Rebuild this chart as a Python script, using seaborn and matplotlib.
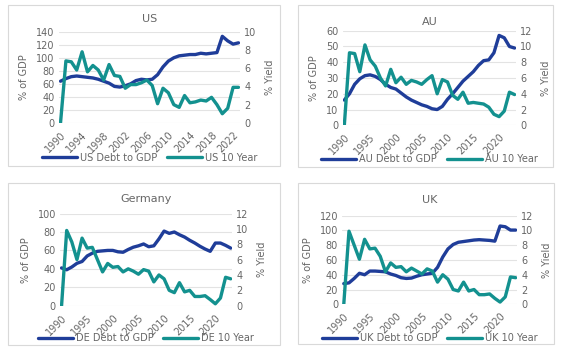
import numpy as np
import pandas as pd
import matplotlib
matplotlib.use('Agg')
import matplotlib.pyplot as plt
import seaborn as sns
from matplotlib.patches import Rectangle

years = list(range(1990, 2024))

us_debt = [64, 68, 71, 72, 71, 70, 69, 67, 64, 61, 56, 55, 57, 60, 65, 67, 66, 67, 74, 86,
           95, 100, 103, 104, 105, 105, 107, 106, 107, 108, 133, 126, 121, 123]
us_yield = [0, 6.8, 6.7, 5.8, 7.8, 5.6, 6.3, 5.8, 4.7, 6.4, 5.2, 5.1, 3.8, 4.2, 4.2, 4.4, 4.7,
            4.1, 2.1, 3.8, 3.3, 2.0, 1.7, 3.0, 2.2, 2.3, 2.5, 2.4, 2.8, 2.0, 1.0, 1.6, 3.9, 3.9]

au_debt = [16, 20, 26, 29.5, 31.5, 32, 31, 29, 26, 24, 23, 20.5, 18, 16, 14.5, 13, 12, 10.5,
           10, 12, 16.5, 20, 24, 28, 31, 34, 38, 41, 41.5, 46, 57, 55.5, 50, 49]
au_yield = [0, 9.2, 9.1, 6.8, 10.2, 8.3, 7.5, 6.0, 5.0, 7.1, 5.4, 6.1, 5.2, 5.7, 5.5, 5.2, 5.8,
            6.3, 4.0, 5.8, 5.5, 3.8, 3.3, 4.2, 2.8, 2.9, 2.8, 2.7, 2.3, 1.4, 1.1, 1.8, 4.2, 3.9]

de_debt = [41, 39, 42, 46, 48, 54, 57, 59, 59.5, 60, 60, 58.5, 58, 61, 63.5, 65, 67, 64, 65,
           72.5, 81, 78.5, 80, 77, 74.5, 71, 68, 64.5, 61.5, 59, 68, 68, 65.5, 62.5]
de_yield = [0, 9.8, 8.3, 6.0, 8.8, 7.5, 7.6, 6.0, 4.4, 5.5, 5.0, 5.1, 4.4, 4.8, 4.5, 4.1, 4.7,
            4.5, 3.1, 4.0, 3.5, 2.0, 1.7, 3.0, 1.8, 2.0, 1.2, 1.2, 1.3, 0.8, 0.25, 1.0, 3.7, 3.5]

uk_debt = [28, 29, 35, 42, 40, 45, 45, 44.5, 44, 41, 39, 36, 35, 35.5, 38, 40, 41, 42, 50, 64,
           75, 81, 84, 85, 86, 87, 87.5, 87, 86.5, 85.5, 106, 105, 100.5, 100.5]
uk_yield = [0, 9.9, 8.0, 6.1, 8.8, 7.5, 7.6, 6.5, 4.4, 5.6, 5.0, 5.1, 4.4, 4.9, 4.5, 4.1, 4.8,
            4.5, 3.0, 4.0, 3.4, 2.0, 1.8, 3.0, 1.8, 2.0, 1.3, 1.3, 1.4, 0.8, 0.3, 1.0, 3.7, 3.6]

DEBT_C = '#1f3d99'
YIELD_C = '#13918f'
TXT = '#666666'
GRID = '#e3e3e3'

sns.set_style('white')
plt.rcParams['font.family'] = ['DejaVu Sans']

fig = plt.figure(figsize=(5.61, 3.53), dpi=100)

# panel boxes (pixel coords: x0, y0_top, x1, y1_bottom)
boxes = [(8, 5, 280, 166), (298, 5, 553, 167), (8, 183, 280, 345), (298, 183, 554, 344)]
for x0, y0, x1, y1 in boxes:
    fig.patches.append(Rectangle((x0 / 561, 1 - y1 / 353), (x1 - x0) / 561, (y1 - y0) / 353,
                                 transform=fig.transFigure, fill=False,
                                 edgecolor='#d9d9d9', lw=0.8))

panels = [
    dict(name='US', title='US', debt=us_debt, yld=us_yield, rect=[0.105, 0.652, 0.323, 0.258],
         lmax=140, lstep=20, rmax=10, xstep=4, title_y=0.946, leg_y=0.553),
    dict(name='AU', title='AU', debt=au_debt, yld=au_yield, rect=[0.611, 0.645, 0.309, 0.268],
         lmax=60, lstep=10, rmax=12, xstep=5, title_y=0.938, leg_y=0.549),
    dict(name='DE', title='Germany', debt=de_debt, yld=de_yield, rect=[0.107, 0.134, 0.307, 0.261],
         lmax=100, lstep=20, rmax=12, xstep=5, title_y=0.436, leg_y=0.042),
    dict(name='UK', title='UK', debt=uk_debt, yld=uk_yield, rect=[0.610, 0.138, 0.312, 0.251],
         lmax=120, lstep=20, rmax=12, xstep=5, title_y=0.433, leg_y=0.042),
]

for p in panels:
    df = pd.DataFrame({'Year': years, 'Debt': p['debt'], 'Yield': p['yld']})
    ax = fig.add_axes(p['rect'])
    ax2 = ax.twinx()
    sns.lineplot(data=df, x='Year', y='Debt', ax=ax, color=DEBT_C, lw=2.4,
                 label=f"{p['name']} Debt to GDP", legend=False)
    sns.lineplot(data=df, x='Year', y='Yield', ax=ax2, color=YIELD_C, lw=2.4,
                 label=f"{p['name']} 10 Year", legend=False)
    ax.set_xlim(1989.7, 2023.3)
    ax.set_ylim(0, p['lmax'])
    ax2.set_ylim(0, p['rmax'])
    ax.set_yticks(np.arange(0, p['lmax'] + 1, p['lstep']))
    ax2.set_yticks(np.arange(0, p['rmax'] + 1, 2))
    ax.set_xticks(list(range(1990, 2024, p['xstep'])))
    for lab in ax.get_xticklabels():
        lab.set_rotation(45)
        lab.set_ha('right')
        lab.set_rotation_mode('anchor')
    ax.grid(axis='y', color=GRID, lw=0.8)
    ax.set_axisbelow(True)
    for a in (ax, ax2):
        for s in a.spines.values():
            s.set_visible(False)
        a.tick_params(length=0, labelsize=7, colors=TXT, pad=3)
    ax.tick_params(axis='x', pad=5)
    ax.set_xlabel('')
    ax.set_ylabel('% of GDP', fontsize=7, color=TXT, labelpad=5)
    ax2.set_ylabel('% Yield', fontsize=7, color=TXT, labelpad=6)
    x0, y0, w, h = p['rect']
    fig.text(x0 + w / 2, p['title_y'], p['title'], ha='center', va='center', fontsize=8, color=TXT)
    handles = ax.get_lines()[:1] + ax2.get_lines()[:1]
    labels = [f"{p['name']} Debt to GDP", f"{p['name']} 10 Year"]
    fig.legend(handles, labels, loc='center', bbox_to_anchor=(x0 + w / 2, p['leg_y']), ncol=2,
               frameon=False, fontsize=7, labelcolor=TXT, handlelength=3.6, handletextpad=0.3,
               columnspacing=1.0, borderpad=0)

fig.savefig('out.png', dpi=100)
